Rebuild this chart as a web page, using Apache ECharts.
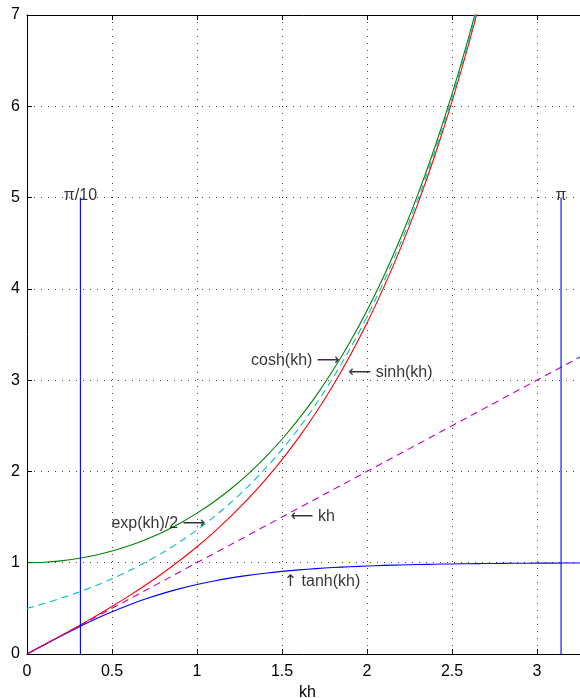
<!DOCTYPE html>
<html>
<head>
<meta charset="utf-8">
<script src="https://cdn.jsdelivr.net/npm/echarts@6/dist/echarts.min.js"></script>
<style>html,body{margin:0;padding:0;background:#fff}#c{width:580px;height:698px}</style>
</head>
<body>
<div id="c"></div>
<script>
// sample points (kh)
var khValues = [0,0.1,0.2,0.3,0.4,0.5,0.6,0.7,0.8,0.9,1.0,1.1,1.2,1.3,1.4,1.5,1.6,1.7,1.8,1.9,2.0,2.1,2.2,2.3,2.4,2.5,2.6,2.7,2.8,2.9,3.0,3.1,3.2,3.3];
var tanhValues = [0,0.0997,0.1974,0.2913,0.3799,0.4621,0.5370,0.6044,0.6640,0.7163,0.7616,0.8005,0.8337,0.8617,0.8854,0.9051,0.9217,0.9354,0.9468,0.9562,0.9640,0.9705,0.9757,0.9801,0.9837,0.9866,0.9890,0.9910,0.9926,0.9940,0.9951,0.9959,0.9967,0.9973];
var sinhValues = [0,0.1002,0.2013,0.3045,0.4108,0.5211,0.6367,0.7586,0.8881,1.0265,1.1752,1.3356,1.5095,1.6984,1.9043,2.1293,2.3756,2.6456,2.9422,3.2682,3.6269,4.0219,4.4571,4.9370,5.4662,6.0502,6.6947,7.4063,8.1919];
var coshValues = [1,1.0050,1.0201,1.0453,1.0811,1.1276,1.1855,1.2552,1.3374,1.4331,1.5431,1.6685,1.8107,1.9709,2.1509,2.3524,2.5775,2.8283,3.1075,3.4177,3.7622,4.1443,4.5679,5.0372,5.5569,6.1323,6.7690,7.4735,8.2527];
var expHalfValues = [0.5,0.5526,0.6107,0.6749,0.7459,0.8244,0.9111,1.0069,1.1128,1.2298,1.3591,1.5021,1.6601,1.8346,2.0276,2.2408,2.4765,2.7370,3.0248,3.3429,3.6945,4.0831,4.5125,4.9871,5.5116,6.0912,6.7319,7.4399,8.2223];
var khLineX = [0, 3.3];
var khLineY = [0, 3.3];
// vertical markers
var markerX = [Math.PI/10, Math.PI];
var markerTop = 5;
var markerText = ['π/10', 'π'];
// annotations: [arrow before, text, arrow after]
var annotX = [1.84, 1.89, 1.05, 1.55, 1.51];
var annotY = [3.21, 3.08, 1.43, 1.50, 0.79];
var annotPre = ['', '⟵', '', '⟵', '↑'];
var annotText = ['cosh(kh)', 'sinh(kh)', 'exp(kh)/2', 'kh', 'tanh(kh)'];
var annotPost = ['⟶', '', '⟶', '', ''];
var annotAlign = ['right', 'left', 'right', 'left', 'left'];
// axis ticks
var xTicks = ['0','0.5','1','1.5','2','2.5','3'];
var yTicks = ['0','1','2','3','4','5','6','7'];

function pairs(xs, ys){ var r=[]; for(var i=0;i<ys.length;i++) r.push([xs[i], ys[i]]); return r; }

var FONT = 'Liberation Sans, Arial, Helvetica, sans-serif';
var chart = echarts.init(document.getElementById('c'), null, {renderer:'canvas'});

var series = [
  {name:'tanh', type:'line', data:pairs(khValues,tanhValues), smooth:0.3, showSymbol:false, lineStyle:{color:'#0000ff', width:1.1}},
  {name:'sinh', type:'line', data:pairs(khValues,sinhValues), smooth:0.3, showSymbol:false, lineStyle:{color:'#ff0000', width:1.1}},
  {name:'cosh', type:'line', data:pairs(khValues,coshValues), smooth:0.3, showSymbol:false, lineStyle:{color:'#008000', width:1.1}},
  {name:'exp/2', type:'line', data:pairs(khValues,expHalfValues), smooth:0.3, showSymbol:false, lineStyle:{color:'#00bfbf', width:1.1, type:[7,5]}},
  {name:'kh', type:'line', data:pairs(khLineX,khLineY), showSymbol:false, lineStyle:{color:'#bf00bf', width:1.1, type:[7,5]}}
];
markerX.forEach(function(mx, i){
  series.push({type:'line', data:[[mx,0],[mx,markerTop]], showSymbol:false, lineStyle:{color:'#0000ff', width:1.1}});
  series.push({type:'scatter', symbolSize:0, data:[[mx,markerTop]], label:{show:true, position:'inside', formatter:markerText[i], color:'#000', fontSize:16, fontFamily:FONT, align:'center', verticalAlign:'middle', offset:[0,-2]}, silent:true});
});
var annData = annotText.map(function(t,i){
  var f = (annotPre[i] ? '{a|'+annotPre[i]+'} ' : '') + t + (annotPost[i] ? ' {a|'+annotPost[i]+'}' : '');
  return {value:[annotX[i], annotY[i]], label:{show:true, position:'inside', formatter:f, align:annotAlign[i], verticalAlign:'middle'}};
});
series.push({type:'scatter', symbolSize:0, data:annData, label:{show:true, color:'#000', fontSize:16, fontFamily:FONT, rich:{a:{fontFamily:'DejaVu Sans', fontSize:16, color:'#000'}}}, silent:true, z:10});

chart.setOption({
  animation:false,
  backgroundColor:'#fff',
  grid:{left:27, top:15, bottom:44, right:-8, outerBoundsMode:'none', containLabel:false},
  xAxis:[{
    type:'value', min:0, max:3.3, interval:0.5, position:'bottom',
    name:'kh', nameLocation:'middle', nameGap:30, nameTextStyle:{color:'#000', fontSize:16, fontFamily:FONT},
    axisLine:{show:true, onZero:false, lineStyle:{color:'#000', width:1}},
    axisTick:{show:true, inside:true, length:5, lineStyle:{color:'#000'}},
    axisLabel:{color:'#000', fontSize:16, fontFamily:FONT, margin:10, showMaxLabel:false, formatter:function(v){var i=Math.round(v/0.5); return (Math.abs(v-i*0.5)<1e-6 && i<xTicks.length)?xTicks[i]:'';}},
    splitLine:{show:true, lineStyle:{color:'#444', width:1, type:[1,6]}}
  },{
    type:'value', min:0, max:3.3, interval:0.5, position:'top',
    axisLine:{show:true, onZero:false, lineStyle:{color:'#000', width:1}},
    axisTick:{show:true, inside:true, length:5, lineStyle:{color:'#000'}},
    axisLabel:{show:false}, splitLine:{show:false}
  }],
  yAxis:[{
    type:'value', min:0, max:7, interval:1,
    axisLine:{show:true, onZero:false, lineStyle:{color:'#000', width:1}},
    axisTick:{show:true, inside:true, length:5, lineStyle:{color:'#000'}},
    axisLabel:{color:'#000', fontSize:16, fontFamily:FONT, margin:7, formatter:function(v){var i=Math.round(v); return yTicks[i]||'';}},
    splitLine:{show:true, lineStyle:{color:'#444', width:1, type:[1,6]}}
  }],
  series:series
});
</script>
</body>
</html>
